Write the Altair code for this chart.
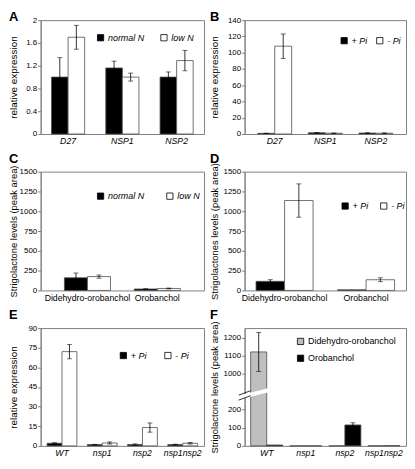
import altair as alt
import pandas as pd

FONT = "Liberation Sans"
BORDER = "#7f7f7f"
BAR_STROKE = "#4d4d4d"

# ---------------- data ----------------
# Panel A
a_genes = ["D27", "NSP1", "NSP2"]
a_series = ["normal N", "low N"]
a_normal = [1.00, 1.16, 1.00]
a_normal_err = [0.34, 0.12, 0.09]
a_low = [1.70, 1.00, 1.29]
a_low_err = [0.21, 0.07, 0.18]

# Panel B
b_genes = ["D27", "NSP1", "NSP2"]
b_series = ["+ Pi", "- Pi"]
b_plus = [0.8, 1.5, 1.2]
b_plus_err = [0.2, 0.3, 0.2]
b_minus = [108.0, 1.0, 1.0]
b_minus_err = [15.0, 0.2, 0.3]

# Panel C
c_comp = ["Didehydro-orobanchol", "Orobanchol"]
c_series = ["normal N", "low N"]
c_normal = [160, 18]
c_normal_err = [60, 3]
c_low = [175, 25]
c_low_err = [20, 5]

# Panel D
d_comp = ["Didehydro-orobanchol", "Orobanchol"]
d_series = ["+ Pi", "- Pi"]
d_plus = [115, 8]
d_plus_err = [20, 0]
d_minus = [1135, 135]
d_minus_err = [210, 25]

# Panel E
e_lines = ["WT", "nsp1", "nsp2", "nsp1nsp2"]
e_series = ["+ Pi", "- Pi"]
e_plus = [2.0, 1.0, 1.0, 1.0]
e_plus_err = [0.4, 0.2, 0.5, 0.3]
e_minus = [72.0, 2.2, 14.0, 2.0]
e_minus_err = [5.5, 0.8, 3.5, 0.6]

# Panel F
f_lines = ["WT", "nsp1", "nsp2", "nsp1nsp2"]
f_series = ["Didehydro-orobanchol", "Orobanchol"]
f_didehydro = [1120, 0, 0, 0]
f_didehydro_err = [110, 0, 0, 0]
f_orobanchol = [5, 0, 115, 1]
f_orobanchol_err = [0, 0, 12, 0]

TITLE_FS = 10
TITLE_PAD = 2


def make_df(cats, series_names, values, errs):
    rows = []
    for s, vals, es in zip(series_names, values, errs):
        for c, v, e in zip(cats, vals, es):
            rows.append({"cat": c, "series": s, "value": v,
                         "lo": v - e, "hi": v + e, "err": e})
    return pd.DataFrame(rows)


def panel(df, cats, series_names, colors, letter, letter_y, y_title,
          y_scale, y_values, y_format, width, height, pi, po, x_italic,
          legend_cfg, extent, title_fs=TITLE_FS, extra_layers=()):
    x = alt.X("cat:N", sort=cats, title=None,
              scale=alt.Scale(paddingInner=pi, paddingOuter=po),
              axis=alt.Axis(labelAngle=0, ticks=False, labelPadding=3,
                            labelFontSize=8.8, labelFont=FONT,
                            labelFontStyle="italic" if x_italic else "normal",
                            labelColor="black", domain=False))
    xo = alt.XOffset("series:N", sort=series_names,
                     scale=alt.Scale(domain=series_names, paddingInner=0,
                                     paddingOuter=0))
    yaxis = alt.Axis(values=y_values, format=y_format, grid=False, tickSize=3,
                     labelFontSize=8, labelFont=FONT, titleFont=FONT,
                     titleFontSize=title_fs, titleFontWeight="normal",
                     titlePadding=TITLE_PAD, minExtent=extent,
                     maxExtent=extent, domainColor=BORDER, tickColor=BORDER,
                     labelColor="black", titleColor="black", labelPadding=1)

    def Y(field):
        return alt.Y(field, title=y_title, scale=y_scale, axis=yaxis)

    bars = alt.Chart(df).mark_bar(stroke=BAR_STROKE, strokeWidth=0.8).encode(
        x=x, xOffset=xo, y=Y("value:Q"),
        fill=alt.Fill("series:N", sort=series_names,
                      scale=alt.Scale(domain=series_names, range=colors),
                      legend=alt.Legend(**legend_cfg)))

    err_df = df[df["err"] > 0]
    rules = alt.Chart(err_df).mark_rule(color="black", strokeWidth=0.8).encode(
        x=x, xOffset=xo, y=Y("lo:Q"), y2="hi:Q")

    cap_rows = []
    for _, r in err_df.iterrows():
        cap_rows.append({"cat": r["cat"], "series": r["series"], "v": r["lo"]})
        cap_rows.append({"cat": r["cat"], "series": r["series"], "v": r["hi"]})
    caps = alt.Chart(pd.DataFrame(cap_rows)).mark_tick(
        color="black", thickness=0.8, size=5).encode(x=x, xOffset=xo, y=Y("v:Q"))

    band = extent + TITLE_PAD + TITLE_FS
    lab = alt.Chart(pd.DataFrame({"t": [letter]})).mark_text(
        align="left", baseline="alphabetic", fontSize=13, fontWeight="bold",
        font=FONT, color="black").encode(
        text="t:N", x=alt.value(-band), y=alt.value(letter_y))

    return alt.layer(bars, rules, caps, lab, *extra_layers).properties(
        width=width, height=height)


def legend(x, y, direction="horizontal", italic=True, col_pad=12, row_pad=4):
    return dict(orient="none", legendX=x, legendY=y, direction=direction,
                title=None, symbolType="square", symbolSize=40,
                symbolStrokeColor="black", symbolStrokeWidth=0.8,
                labelFont=FONT, labelFontSize=9,
                labelFontStyle="italic" if italic else "normal",
                labelColor="black", labelOffset=3, columnPadding=col_pad,
                rowPadding=row_pad, columns=1 if direction == "vertical" else 2)


LW, RW = 165, 163
H1, H2, H3 = 115, 120, 119
LEXT, REXT = 20, 23
LONG_FS = 9.5

dfA = make_df(a_genes, a_series, [a_normal, a_low], [a_normal_err, a_low_err])
A = panel(dfA, a_genes, a_series, ["black", "white"], "A", 1,
          "relative expression", alt.Scale(domain=[0, 2], nice=False),
          [0, 0.4, 0.8, 1.2, 1.6, 2], "~g", LW, H1, 0.39, 0.2, True,
          legend(56, 13, col_pad=14), LEXT)

dfB = make_df(b_genes, b_series, [b_plus, b_minus], [b_plus_err, b_minus_err])
B = panel(dfB, b_genes, b_series, ["black", "white"], "B", 1,
          "relative expression", alt.Scale(domain=[0, 140], nice=False),
          list(range(0, 141, 20)), "d", RW, H1, 0.33, 0.26, True,
          legend(96, 16, col_pad=7), REXT)

dfC = make_df(c_comp, c_series, [c_normal, c_low], [c_normal_err, c_low_err])
C = panel(dfC, c_comp, c_series, ["black", "white"], "C", -9,
          "Strigolactone levels (peak area)",
          alt.Scale(domain=[0, 1500], nice=False),
          list(range(0, 1501, 250)), "d", LW, H2, 0.34, 0.34, False,
          legend(56, 20, col_pad=20), LEXT, title_fs=LONG_FS)

dfD = make_df(d_comp, d_series, [d_plus, d_minus], [d_plus_err, d_minus_err])
D = panel(dfD, d_comp, d_series, ["black", "white"], "D", -9,
          "Strigolactones levels (peak area)",
          alt.Scale(domain=[0, 1500], nice=False),
          list(range(0, 1501, 250)), "d", RW, H2, 0.3, 0.14, False,
          legend(97, 30, col_pad=10), REXT, title_fs=LONG_FS)

dfE = make_df(e_lines, e_series, [e_plus, e_minus], [e_plus_err, e_minus_err])
E = panel(dfE, e_lines, e_series, ["black", "white"], "E", -9,
          "relative expression", alt.Scale(domain=[0, 90], nice=False),
          list(range(0, 91, 15)), "d", LW, H3, 0.26, 0.16, True,
          legend(79, 23, col_pad=16), LEXT)

# Panel F: broken y axis via piecewise scale
f_break = [0, 283, 887, 1255]
f_range = [H3, round(H3 * 0.563, 1), round(H3 * 0.552, 1), 0]
brk = pd.DataFrame({"k": [1]})
yb = H3 * 0.557
cut = alt.Chart(brk).mark_rule(color="white", strokeWidth=4).encode(
    x=alt.value(-6), x2=alt.value(26), y=alt.value(yb + 4), y2=alt.value(yb - 4))
line1 = alt.Chart(brk).mark_rule(color="black", strokeWidth=0.8).encode(
    x=alt.value(-6), x2=alt.value(6), y=alt.value(yb + 6.5), y2=alt.value(yb + 2))
line2 = alt.Chart(brk).mark_rule(color="black", strokeWidth=0.8).encode(
    x=alt.value(-6), x2=alt.value(6), y=alt.value(yb + 1.5), y2=alt.value(yb - 3))

dfF = make_df(f_lines, f_series, [f_didehydro, f_orobanchol],
              [f_didehydro_err, f_orobanchol_err])
F = panel(dfF, f_lines, f_series, ["#bfbfbf", "black"], "F", -9,
          "Strigolactone levels (peak area)",
          alt.Scale(domain=f_break, range=f_range, nice=False, zero=False),
          [0, 100, 200, 1000, 1100, 1200], "d", RW, H3, 0.18, 0.155, True,
          legend(52, 9, direction="vertical", italic=False, row_pad=6), REXT,
          title_fs=LONG_FS, extra_layers=(cut, line1, line2))

chart = alt.concat(A, B, C, D, E, F, columns=2, align="each",
                   spacing=alt.RowColnumber(row=5, column=4)).resolve_scale(
    fill="independent", xOffset="independent", x="independent",
    y="independent").resolve_legend(fill="independent").properties(
    padding=0, background="white"
).configure_view(stroke=BORDER, strokeWidth=1)

chart.save("out.html", embed_options={"renderer": "svg", "actions": False})
